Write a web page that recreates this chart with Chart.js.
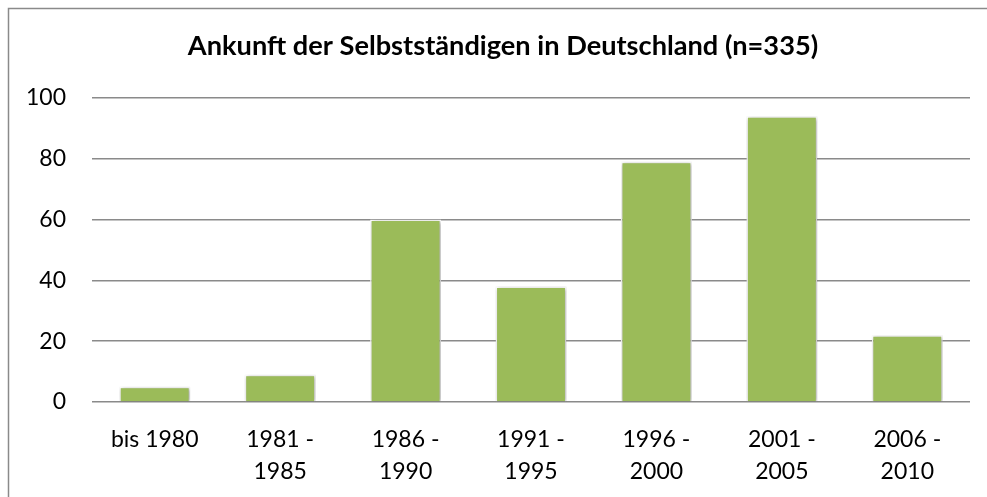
<!DOCTYPE html>
<html>
<head>
<meta charset="utf-8">
<script src="https://cdn.jsdelivr.net/npm/chart.js@4/dist/chart.umd.min.js"></script>
<style>
html,body{margin:0;padding:0;background:#fff;}
canvas{display:block;}
</style>
</head>
<body>
<canvas id="c" width="987" height="497"></canvas>
<script>
const chartTitle = "Ankunft der Selbstständigen in Deutschland (n=335)";
const categories = [["bis 1980"], ["1981 -", "1985"], ["1986 -", "1990"], ["1991 -", "1995"], ["1996 -", "2000"], ["2001 -", "2005"], ["2006 -", "2010"]];
const counts = [5, 9, 60, 38, 79, 94, 22];
const yTicks = [0, 20, 40, 60, 80, 100];

const frame = {
  id: 'frame',
  beforeDraw(chart) {
    const ctx = chart.ctx;
    ctx.save();
    ctx.fillStyle = '#fff';
    ctx.fillRect(0, 0, chart.width, chart.height);
    ctx.strokeStyle = '#8a8a8a';
    ctx.lineWidth = 1.5;
    ctx.strokeRect(8.5, 8.5, 1100, 600);
    ctx.restore();
  }
};
const titleShift = {
  id: 'titleShift',
  afterLayout(chart) {
    if (chart.titleBlock) { chart.titleBlock.left += 36; }
  }
};
const shadow = {
  id: 'shadow',
  beforeDatasetsDraw(chart) {
    const ctx = chart.ctx;
    ctx.save();
    ctx.shadowColor = 'rgba(0,0,0,0.35)';
    ctx.shadowBlur = 4;
    ctx.shadowOffsetX = 1;
    ctx.shadowOffsetY = 1;
  },
  afterDatasetsDraw(chart) {
    chart.ctx.restore();
  }
};

new Chart(document.getElementById('c'), {
  type: 'bar',
  data: {
    labels: categories,
    datasets: [{
      data: counts,
      backgroundColor: '#9BBB59',
      borderColor: '#ffffff',
      borderWidth: 1.5,
      categoryPercentage: 1,
      barPercentage: 0.565
    }]
  },
  options: {
    responsive: false,
    animation: false,
    devicePixelRatio: 1,
    layout: { padding: { left: 0, right: 17, top: 0, bottom: 0 } },
    plugins: {
      legend: { display: false },
      tooltip: { enabled: false },
      title: {
        display: true,
        text: chartTitle,
        color: '#000',
        font: { family: 'Lato', size: 27.2, weight: 'bold', lineHeight: 1.2 },
        padding: { top: 30, bottom: 35.4 }
      }
    },
    scales: {
      x: {
        grid: { display: false },
        border: { display: false },
        ticks: {
          color: '#000',
          font: { family: 'Lato', size: 23, lineHeight: 1.38 },
          padding: 14,
          maxRotation: 0,
          autoSkip: false
        },
        afterFit(s) { s.height = 95; }
      },
      y: {
        min: 0,
        max: 100,
        afterBuildTicks(s) { s.ticks = yTicks.map(v => ({ value: v })); },
        grid: { color: '#8a8a8a', lineWidth: 1.5, drawTicks: false },
        border: { display: false },
        ticks: {
          color: '#000',
          font: { family: 'Lato', size: 23 },
          padding: 26
        },
        afterFit(s) { s.width = 92; }
      }
    }
  },
  plugins: [frame, titleShift, shadow]
});
</script>
</body>
</html>
